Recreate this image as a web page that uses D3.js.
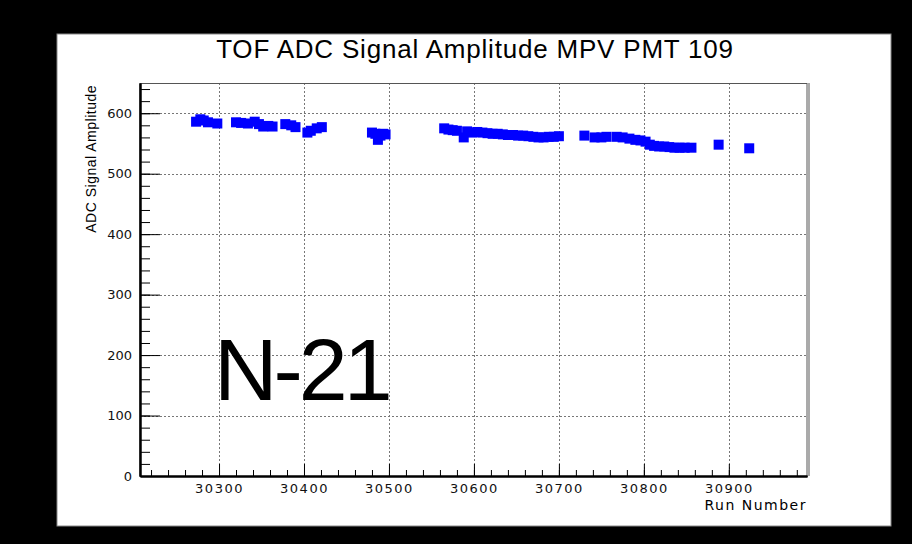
<!DOCTYPE html>
<html>
<head>
<meta charset="utf-8">
<script src="https://cdn.jsdelivr.net/npm/d3@7"></script>
<style>
  body { margin: 0; background: #000; }
  svg { display: block; }
</style>
</head>
<body>
<script>
// data
const runNumbers = [
  30273, 30278, 30282, 30287, 30298,
  30320, 30326, 30334, 30342, 30347, 30352, 30358, 30363,
  30378, 30385, 30390,
  30404, 30408, 30415, 30421,
  30480, 30484, 30487, 30490, 30493, 30496,
  30565, 30570, 30575, 30580, 30588, 30592, 30598, 30604, 30610, 30616,
  30622, 30628, 30634, 30640, 30646, 30652, 30658, 30664, 30670, 30676,
  30682, 30688, 30694, 30700,
  30730, 30742, 30750, 30756,
  30768, 30775, 30783, 30790, 30796, 30802,
  30807, 30812, 30818, 30824, 30830, 30836, 30842, 30848, 30856,
  30888, 30924
];
const amplitudes = [
  586, 590, 588, 585, 583,
  585, 584, 583, 586, 582, 578, 579, 578,
  582, 580, 577,
  568, 571, 575, 577,
  568, 566, 556, 563, 566, 565,
  575, 573, 572, 571, 560, 570, 568, 569, 568, 567,
  566, 566, 565, 564, 564, 563, 563, 562, 561, 560,
  560, 561, 561, 562,
  563, 560, 560, 561,
  561, 560, 558, 556, 555, 553,
  548, 546, 545, 545, 544, 543, 543, 543, 543,
  548, 542
];
const xMajorTicks = [30300, 30400, 30500, 30600, 30700, 30800, 30900];
const yMajorTicks = [0, 100, 200, 300, 400, 500, 600];

const width = 912;
const height = 544;
const plotLeft = 140, plotRight = 807, plotTop = 83, plotBottom = 476;

const svg = d3.select('body').append('svg')
  .attr('width', width)
  .attr('height', height);

svg.append('rect').attr('width', width).attr('height', height).attr('fill', '#000');
svg.append('rect')
  .attr('x', 57).attr('y', 34).attr('width', 834).attr('height', 492)
  .attr('fill', '#fff').attr('stroke', '#888').attr('stroke-width', 1);

const x = d3.scaleLinear().domain([30207, 30992]).range([plotLeft, plotRight]);
const y = d3.scaleLinear().domain([0, 650]).range([plotBottom, plotTop]);

// grid
const grid = svg.append('g').attr('stroke', '#777').attr('stroke-width', 1)
  .attr('stroke-dasharray', '2,2');
grid.selectAll('line.v').data(xMajorTicks).enter().append('line')
  .attr('x1', d => Math.round(x(d)) + 0.5).attr('x2', d => Math.round(x(d)) + 0.5)
  .attr('y1', plotTop).attr('y2', plotBottom);
grid.selectAll('line.h').data(yMajorTicks.slice(1)).enter().append('line')
  .attr('y1', d => Math.round(y(d)) + 0.5).attr('y2', d => Math.round(y(d)) + 0.5)
  .attr('x1', plotLeft).attr('x2', plotRight);

// frame
svg.append('rect')
  .attr('x', plotLeft).attr('y', plotTop + 0.5)
  .attr('width', plotRight - plotLeft).attr('height', plotBottom - plotTop)
  .attr('fill', 'none').attr('stroke', '#555').attr('stroke-width', 1);
svg.append('line')
  .attr('x1', plotRight + 1.5).attr('x2', plotRight + 1.5)
  .attr('y1', plotTop).attr('y2', plotBottom)
  .attr('stroke', '#aaa').attr('stroke-width', 3);

// minor ticks
const yMinor = svg.append('g').attr('transform', `translate(${plotLeft},0)`)
  .call(d3.axisLeft(y).tickValues(d3.range(0, 651, 20)).tickSize(-10)
    .tickSizeOuter(0).tickFormat(''));
const xMinor = svg.append('g').attr('transform', `translate(0,${plotBottom})`)
  .call(d3.axisBottom(x).tickValues(d3.range(30220, 30992, 20)).tickSize(-6)
    .tickSizeOuter(0).tickFormat(''));

// major axes
const yAxis = svg.append('g').attr('transform', `translate(${plotLeft},0)`)
  .call(d3.axisLeft(y).tickValues(yMajorTicks).tickSize(-20).tickSizeOuter(0)
    .tickPadding(8));
const xAxis = svg.append('g').attr('transform', `translate(0,${plotBottom})`)
  .call(d3.axisBottom(x).tickValues(xMajorTicks).tickSize(-12).tickSizeOuter(0)
    .tickPadding(8).tickFormat(d3.format('d')));

[yMinor, xMinor, yAxis, xAxis].forEach(g => {
  g.selectAll('.tick line').attr('stroke', '#000');
  g.select('.domain').attr('stroke', '#000').attr('stroke-width', 2);
});
yAxis.selectAll('text')
  .attr('font-family', 'DejaVu Sans').attr('font-size', 13).attr('fill', '#111');
xAxis.selectAll('text')
  .attr('font-family', 'DejaVu Sans').attr('font-size', 13).attr('fill', '#111')
  .attr('letter-spacing', 1.5);

// markers
const points = runNumbers.map((r, i) => ({run: r, amp: amplitudes[i]}));
const size = 10;
svg.append('g').selectAll('rect').data(points).enter().append('rect')
  .attr('x', d => x(d.run) - size / 2)
  .attr('y', d => y(d.amp) - size / 2)
  .attr('width', size).attr('height', size)
  .attr('fill', '#0000ff');

// texts
svg.append('text')
  .attr('x', 475).attr('y', 58)
  .attr('text-anchor', 'middle')
  .attr('font-family', 'Liberation Sans').attr('font-size', 26)
  .attr('letter-spacing', 0.8)
  .text('TOF ADC Signal Amplitude MPV PMT 109');

svg.append('text')
  .attr('transform', 'translate(96,85) rotate(-90)')
  .attr('text-anchor', 'end')
  .attr('font-family', 'Liberation Sans').attr('font-size', 14)
  .attr('letter-spacing', 0.5)
  .text('ADC Signal Amplitude');

svg.append('text')
  .attr('x', plotRight).attr('y', 510)
  .attr('text-anchor', 'end')
  .attr('font-family', 'DejaVu Sans').attr('font-size', 14)
  .attr('letter-spacing', 1.5)
  .text('Run Number');

svg.append('text')
  .attr('x', 214).attr('y', 400)
  .attr('font-family', 'Liberation Sans').attr('font-size', 88)
  .attr('letter-spacing', -4)
  .attr('fill', '#000')
  .text('N-21');
</script>
</body>
</html>
